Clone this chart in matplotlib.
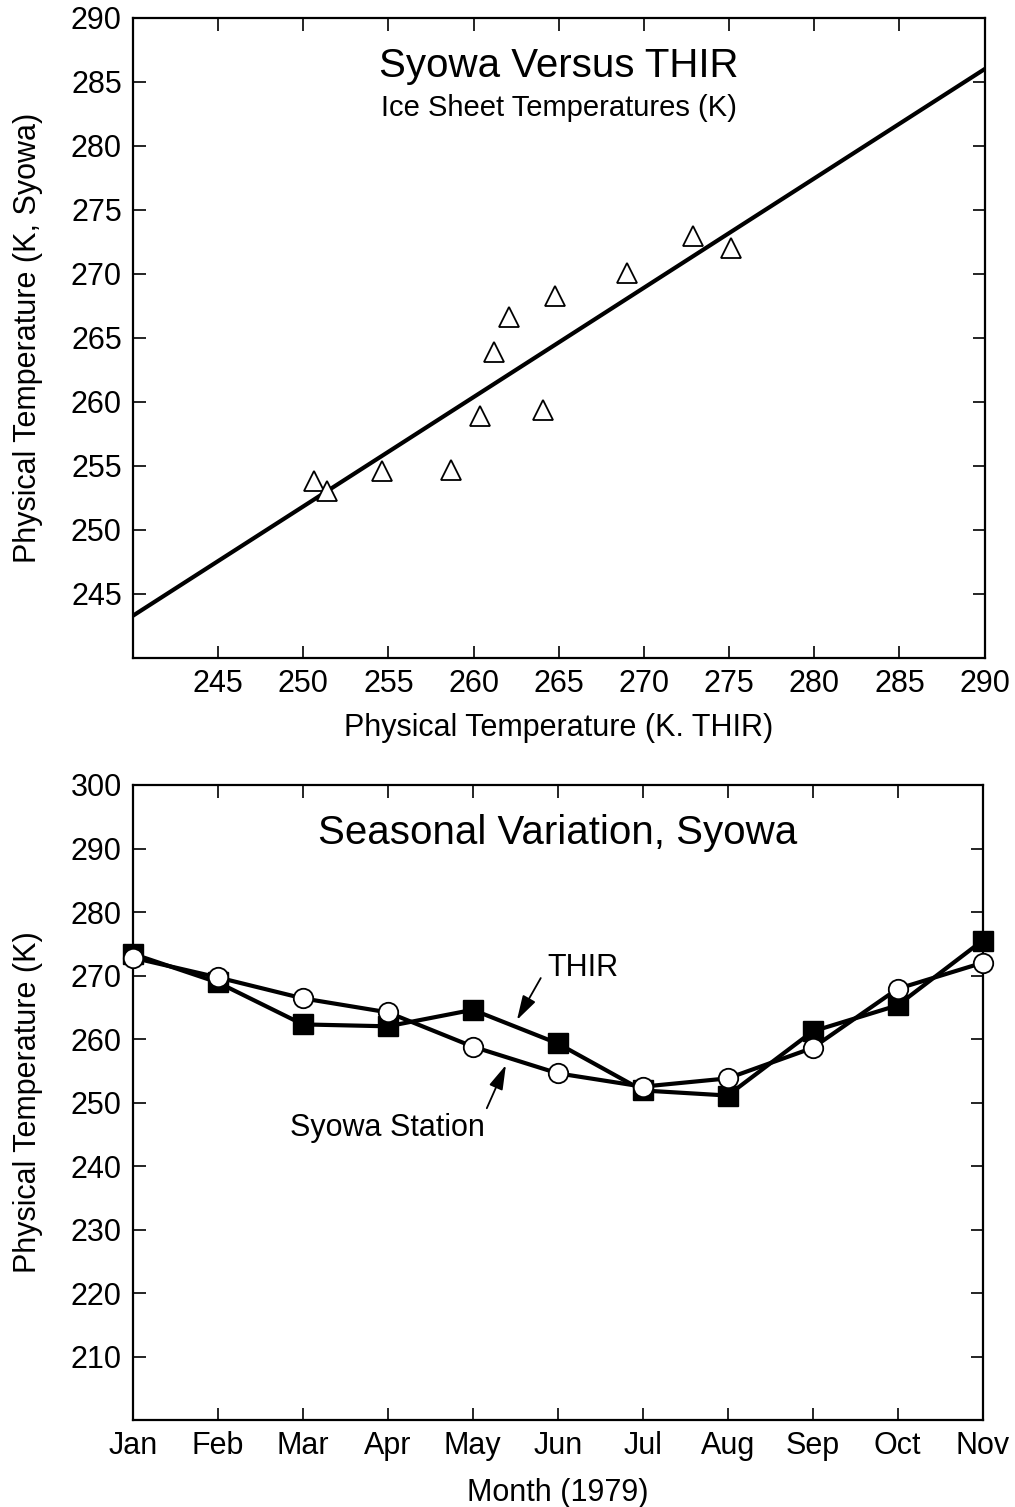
import numpy as np
import matplotlib
matplotlib.use("Agg")
import matplotlib.pyplot as plt

plt.rcParams["font.family"] = ["Liberation Sans", "DejaVu Sans"]

# --- top panel: Syowa vs THIR ice sheet temperatures ---
thir_pts = [250.65, 251.4, 254.6, 258.65, 260.4, 261.2, 262.06, 264.1, 264.76, 269.0, 272.9, 275.1]
syowa_pts = [253.85, 253.07, 254.6, 254.7, 258.9, 263.9, 266.6, 259.4, 268.3, 270.05, 272.94, 272.0]
fit_x = [240, 290]
fit_y = [243.3, 286.0]
top_ticks = [245, 250, 255, 260, 265, 270, 275, 280, 285, 290]
top_yticks = [245, 250, 255, 260, 265, 270, 275, 280, 285, 290]

# --- bottom panel: seasonal variation ---
months = ["Jan", "Feb", "Mar", "Apr", "May", "Jun", "Jul", "Aug", "Sep", "Oct", "Nov"]
thir_month = [273.4, 268.9, 262.3, 262.0, 264.6, 259.3, 251.9, 251.1, 261.2, 265.3, 275.5]
syowa_month = [272.8, 269.7, 266.4, 264.2, 258.8, 254.6, 252.5, 253.8, 258.6, 267.9, 272.0]
bot_yticks = [210, 220, 230, 240, 250, 260, 270, 280, 290, 300]

FS = 22


def style_axes(ax):
    for s in ax.spines.values():
        s.set_linewidth(1.6)
    ax.tick_params(direction="in", length=9, width=1.2, top=True, right=True,
                   labelsize=FS, pad=8)


fig = plt.figure(figsize=(10.15, 15.07), dpi=100)

ax1 = fig.add_axes([0.131, 0.5634, 0.839, 0.4247])
ax1.plot(fit_x, fit_y, color="black", linewidth=3, zorder=2)
ax1.plot(thir_pts, syowa_pts, linestyle="none", marker="^", markersize=15,
         markerfacecolor="white", markeredgecolor="black", markeredgewidth=1.3, zorder=3)
ax1.set_xlim(240, 290)
ax1.set_ylim(240, 290)
ax1.set_xticks(top_ticks)
ax1.set_yticks(top_yticks)
style_axes(ax1)
ax1.set_xlabel("Physical Temperature (K. THIR)", fontsize=FS, labelpad=10)
ax1.set_ylabel("Physical Temperature (K, Syowa)", fontsize=FS, labelpad=20)
ax1.text(0.5, 0.925, "Syowa Versus THIR", transform=ax1.transAxes, ha="center",
         va="center", fontsize=29)
ax1.text(0.5, 0.86, "Ice Sheet Temperatures (K)", transform=ax1.transAxes,
         ha="center", va="center", fontsize=21)

ax2 = fig.add_axes([0.131, 0.0577, 0.837, 0.4214])
x = np.arange(len(months))
ax2.plot(x, thir_month, color="black", linewidth=3, marker="s", markersize=14,
         markerfacecolor="black", markeredgecolor="black", clip_on=False, zorder=3)
ax2.plot(x, syowa_month, color="black", linewidth=3, marker="o", markersize=14,
         markerfacecolor="white", markeredgecolor="black", markeredgewidth=1.3,
         clip_on=False, zorder=4)
ax2.set_xlim(0, len(months) - 1)
ax2.set_ylim(200, 300)
ax2.set_xticks(x)
ax2.set_xticklabels(months)
ax2.set_yticks(bot_yticks)
style_axes(ax2)
ax2.set_xlabel("Month (1979)", fontsize=FS, labelpad=12)
ax2.set_ylabel("Physical Temperature (K)", fontsize=FS, labelpad=20)
ax2.text(0.5, 0.925, "Seasonal Variation, Syowa", transform=ax2.transAxes,
         ha="center", va="center", fontsize=29)

arrow = dict(arrowstyle="-|>,head_length=0.75,head_width=0.22", color="black", lw=1.3,
             shrinkA=0, shrinkB=0, mutation_scale=20)
ax2.text(4.88, 271.2, "THIR", fontsize=FS, ha="left", va="center")
ax2.annotate("", xy=(4.52, 263.0), xytext=(4.8, 269.6), arrowprops=arrow)
ax2.text(2.99, 246.0, "Syowa Station", fontsize=FS, ha="center", va="center")
ax2.annotate("", xy=(4.39, 255.9), xytext=(4.165, 249.1), arrowprops=arrow)

fig.savefig("out.png", dpi=100)
